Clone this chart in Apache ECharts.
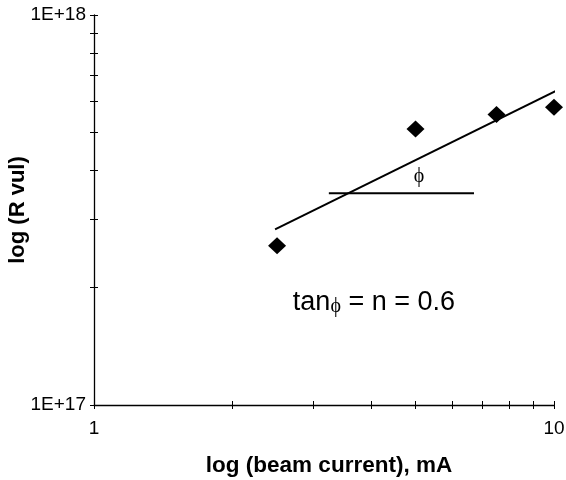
<!DOCTYPE html>
<html>
<head>
<meta charset="utf-8">
<script src="https://cdn.jsdelivr.net/npm/echarts@6/dist/echarts.min.js"></script>
<style>html,body{margin:0;padding:0;background:#fff}#c{width:566px;height:480px}</style>
</head>
<body>
<div id="c"></div>
<script>
// Data
var beamCurrent = [2.5, 5, 7.5, 10];
var rVul = [2.56e17, 5.1e17, 5.56e17, 5.8e17];
var trendX = [2.475, 10.27];
var trendY = [2.82e17, 6.45e17];
var baseX = [3.24, 6.7];
var baseY = [3.49e17, 3.49e17];
var phiPos = [5.09, 3.84e17];
var eqPos = [4.06, 1.826e17];
var xTicks = [1, 2, 3, 4, 5, 6, 7, 8, 9, 10];
var xLabels = [1, 10];
var yTicks = [1e17, 2e17, 3e17, 4e17, 5e17, 6e17, 7e17, 8e17, 9e17, 1e18];
var yLabels = [1e17, 1e18];

var FONT = 'Liberation Sans, Arial, sans-serif';
function yFmt(v) { return '1E+' + Math.round(Math.log10(v)); }

var chart = echarts.init(document.getElementById('c'), null, {renderer: 'canvas'});
function xAxisCfg(inside, main) {
  return {
    type: 'log', logBase: 10, min: 1, max: 10.00001, position: 'bottom',
    name: main ? 'log (beam current), mA' : '', nameLocation: 'middle', nameGap: 49,
    nameMoveOverlap: false,
    nameTextStyle: {fontFamily: FONT, fontWeight: 'bold', fontSize: 22.5, color: '#000', padding: [0, 0, 0, 10]},
    axisLine: {show: main, lineStyle: {color: '#000', width: 1.3}},
    axisTick: {show: true, inside: inside, length: 4, customValues: xTicks, lineStyle: {color: '#000', width: 1}},
    axisLabel: {show: main, customValues: xLabels, formatter: function (v) { return String(Math.round(v)); }, fontFamily: FONT, fontSize: 19, color: '#000', margin: 14},
    splitLine: {show: false}, minorTick: {show: false}
  };
}
function yAxisCfg(inside, main) {
  return {
    type: 'log', logBase: 10, min: 1e17, max: 1.000001e18, position: 'left',
    name: main ? 'log (R vul)' : '', nameLocation: 'middle', nameGap: 65,
    nameMoveOverlap: false,
    nameTextStyle: {fontFamily: FONT, fontWeight: 'bold', fontSize: 22, color: '#000'},
    axisLine: {show: main, lineStyle: {color: '#000', width: 1.3}},
    axisTick: {show: true, inside: inside, length: 4, customValues: yTicks, lineStyle: {color: '#000', width: 1}},
    axisLabel: {show: main, customValues: yLabels, formatter: yFmt, fontFamily: FONT, fontSize: 19, color: '#000', margin: 8},
    splitLine: {show: false}, minorTick: {show: false}
  };
}

chart.setOption({
  animation: false,
  backgroundColor: '#fff',
  grid: {left: 94, right: 12, top: 15, bottom: 75, containLabel: false, outerBoundsMode: 'none'},
  xAxis: [xAxisCfg(false, true), xAxisCfg(true, false)],
  yAxis: [yAxisCfg(false, true), yAxisCfg(true, false)],
  series: [
    {
      type: 'line', data: trendX.map(function (x, i) { return [x, trendY[i]]; }),
      symbol: 'none', clip: false, lineStyle: {color: '#000', width: 2}, z: 2
    },
    {
      type: 'line', data: baseX.map(function (x, i) { return [x, baseY[i]]; }),
      symbol: 'none', clip: false, lineStyle: {color: '#000', width: 2}, z: 2
    },
    {
      type: 'scatter', data: beamCurrent.map(function (x, i) { return [x, rVul[i]]; }),
      symbol: 'diamond', symbolSize: [18, 17], itemStyle: {color: '#000', opacity: 1}, clip: false, z: 3
    },
    {
      type: 'scatter', data: [phiPos], symbolSize: 0, silent: true, itemStyle: {opacity: 1},
      label: {show: true, position: 'inside', formatter: '\u03d5', fontFamily: 'Liberation Serif, serif', fontSize: 20, color: '#000', textBorderWidth: 0}
    },
    {
      type: 'scatter', data: [eqPos], symbolSize: 0, silent: true, itemStyle: {opacity: 1},
      label: {
        show: true, position: 'inside', formatter: '{a|tan}{b|\u03d5}{a| = n = 0.6}', textBorderWidth: 0,
        rich: {
          a: {fontFamily: FONT, fontSize: 27, color: '#000', lineHeight: 30, textBorderWidth: 0},
          b: {fontFamily: 'Liberation Serif, serif', fontSize: 20, color: '#000', lineHeight: 30, padding: [7, 0, 0, 0], textBorderWidth: 0}
        }
      }
    }
  ]
});
</script>
</body>
</html>
